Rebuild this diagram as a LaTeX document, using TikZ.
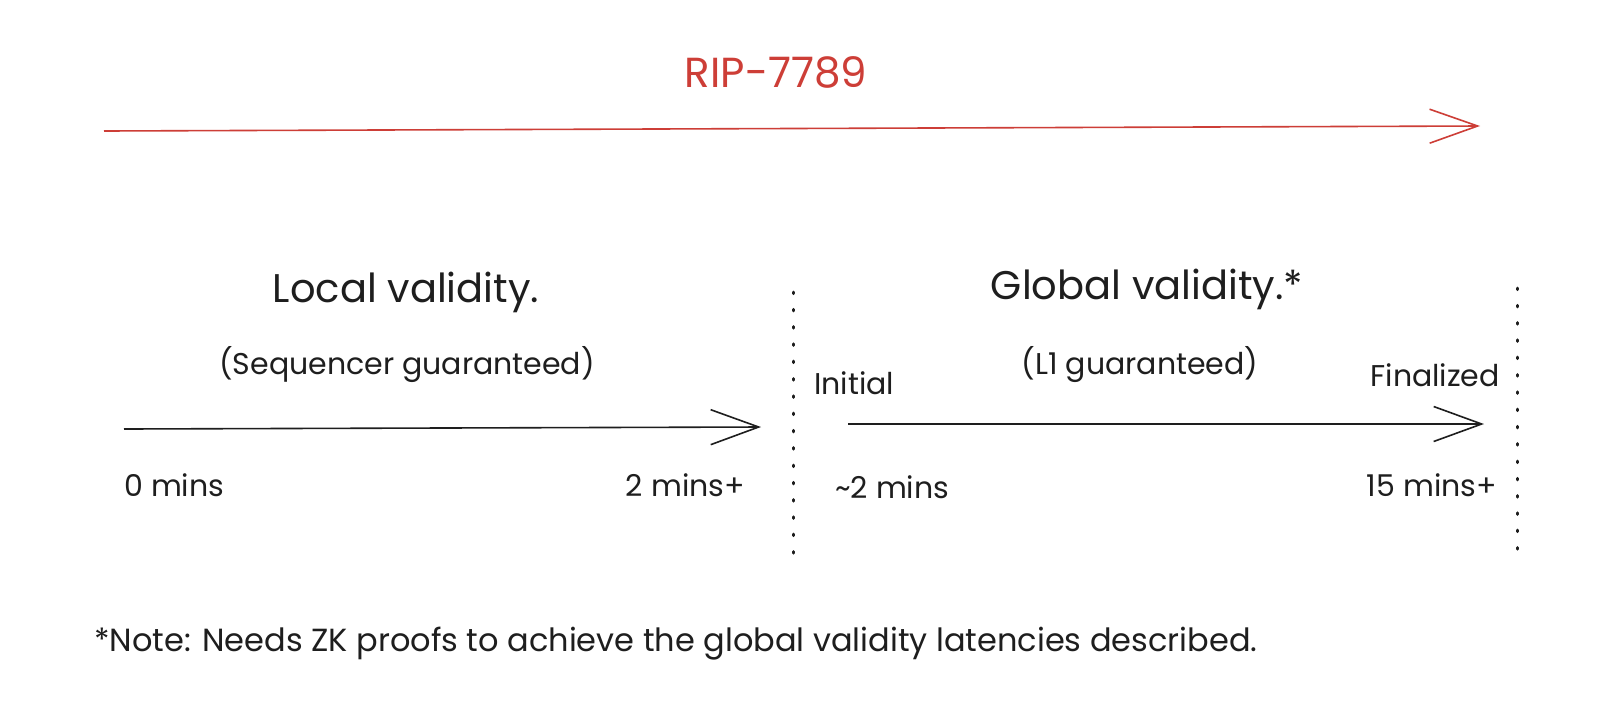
\documentclass[tikz,border=0pt]{standalone}
\usepackage{fontspec}
\setmainfont{Poppins}
\usetikzlibrary{arrows.meta}
\definecolor{ripred}{RGB}{205,62,55}
\definecolor{ink}{RGB}{30,30,30}
\tikzset{
  x=1pt, y=-1pt,
  lbl/.style={inner sep=0pt, text=ink, font=\fontsize{30}{34}\selectfont},
  note/.style={inner sep=0pt, text=ink, font=\fontsize{32}{36}\selectfont},
  head/.style={inner sep=0pt, text=ink, font=\fontsize{40}{46}\selectfont},
  timeline/.style={draw=ink, line width=1.6pt, -{Straight Barb[length=48pt,width=35pt,line width=1.6pt]}},
  redline/.style={draw=ripred, line width=1.6pt, -{Straight Barb[length=48pt,width=34pt,line width=1.6pt]}},
  divider/.style={draw=ink, line width=3pt, line cap=round, dash pattern=on 1.5pt off 15.8pt},
}
\begin{document}
\begin{tikzpicture}
\useasboundingbox[fill=white] (0,0) rectangle (1606,716);
% title and red arrow
\node[head, text=ripred, font=\fontsize{42}{48}\selectfont] (title) at (776,72) {RIP-7789};
\coordinate (rs) at (104,131);
\coordinate (re) at (1480,126);
\draw[redline] (rs) -- (re);
% local validity
\node[head] (local) at (406,292) {Local validity.};
\node[lbl] (seq) at (407,365) {(Sequencer guaranteed)};
\coordinate (a1s) at (124,429);
\coordinate (a1e) at (761,427);
\draw[timeline] (a1s) -- (a1e);
\node[lbl, anchor=west] (zero) at (124,485) {0 mins};
\node[lbl, anchor=east] (two) at (745,485) {2 mins+};
% divider 1
\coordinate (d1s) at (793,292);
\coordinate (d1e) at (793,565);
\draw[divider] (d1s) -- (d1e);
% global validity
\node[head] (global) at (1147,289) {Global validity.*};
\node[lbl] (l1) at (1140,365) {(L1 guaranteed)};
\node[lbl, anchor=west] (initial) at (814,383) {Initial};
\node[lbl, anchor=east] (final) at (1500,375) {Finalized};
\coordinate (a2s) at (848,424);
\coordinate (a2e) at (1484,424);
\draw[timeline] (a2s) -- (a2e);
\node[lbl, anchor=west] (ztwo) at (835,487) {\textasciitilde 2 mins};
\node[lbl, anchor=east] (fifteen) at (1497,485) {15 mins+};
% divider 2
\coordinate (d2s) at (1517,288);
\coordinate (d2e) at (1517,563);
\draw[divider] (d2s) -- (d2e);
% note
\node[note, anchor=west] (note) at (94,644) {*Note: Needs ZK proofs to achieve the global validity latencies described.};
\end{tikzpicture}
\end{document}
